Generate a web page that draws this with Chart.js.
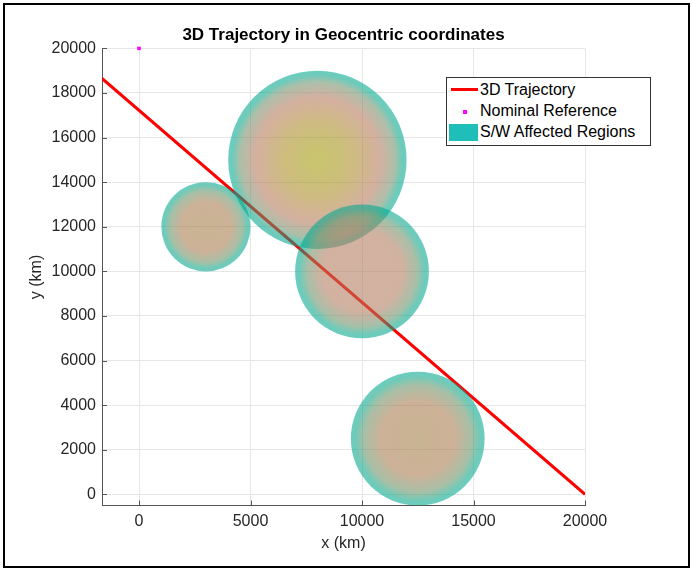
<!DOCTYPE html>
<html>
<head>
<meta charset="utf-8">
<script src="https://cdn.jsdelivr.net/npm/chart.js@4.4.0/dist/chart.umd.min.js"></script>
<style>
  html, body { margin: 0; padding: 0; background: #fff; }
  #wrap { position: relative; width: 692px; height: 571px; font-family: "Liberation Sans", Arial, sans-serif; }
  #frame { position: absolute; left: 3px; top: 3px; width: 683px; height: 561px; border: 2px solid #000; pointer-events: none; }
  #legend { position: absolute; left: 446px; top: 77px; width: 205px; height: 69px; box-sizing: border-box;
            border: 1px solid #333; background: #fff; font-size: 16px; color: #000; }
  #legend .row { position: absolute; left: 33px; height: 20px; line-height: 20px; white-space: nowrap; }
  #legend .sym { position: absolute; }
</style>
</head>
<body>
<div id="wrap">
  <canvas id="chart" width="692" height="571"></canvas>
  <div id="legend">
    <div class="sym" style="left:4px; top:10px; width:27px; height:3px; background:#ff0000;"></div>
    <div class="row" style="top:2px;">3D Trajectory</div>
    <div class="sym" style="left:16px; top:32px; width:4px; height:4px; background:#ff00ff;"></div>
    <div class="row" style="top:23px;">Nominal Reference</div>
    <div class="sym" style="left:2px; top:46px; width:29px; height:17px; background:#1fbeb8;"></div>
    <div class="row" style="top:44px;">S/W Affected Regions</div>
  </div>
  <div id="frame"></div>
</div>
<script>
// axis limits and ticks (km)
const xMin = -1660;
const xMax = 20000;
const yMin = -500;
const yMax = 20000;
const xTicks = [0, 5000, 10000, 15000, 20000];
const yTicks = [0, 2000, 4000, 6000, 8000, 10000, 12000, 14000, 16000, 18000, 20000];

// 3D trajectory (projected on x-y)
const trajX = [-1660, 20000];
const trajY = [18650, 0];

// nominal reference point
const nomX = [0];
const nomY = [20000];

// S/W affected regions: centres and radii (km)
const regionX = [3000, 8000, 10000, 12500];
const regionY = [12000, 15000, 10000, 2500];
const regionR = [2000, 4000, 3000, 3000];

// shading per region (style only)
const regionShade = ['tan', 'gold', 'pink', 'tan'];

const ALPHA = 0.58;
// colour as it looks over white -> base colour to draw with ALPHA
function tint(c) {
  const b = c.map(v => Math.max(0, Math.min(255, Math.round((v - 255 * (1 - ALPHA)) / ALPHA))));
  return `rgba(${b[0]},${b[1]},${b[2]},${ALPHA})`;
}
const shades = {
  tan: [[0, [200, 180, 146]], [0.55, [205, 178, 152]], [0.8, [168, 191, 166]], [0.93, [112, 202, 184]], [1, [90, 205, 192]]],
  pink: [[0, [210, 178, 160]], [0.6, [210, 177, 160]], [0.82, [168, 191, 168]], [0.94, [110, 203, 186]], [1, [90, 205, 192]]],
  gold: [[0, [200, 197, 105]], [0.4, [205, 188, 128]], [0.7, [212, 176, 160]], [0.87, [172, 191, 170]], [0.95, [110, 203, 186]], [1, [90, 205, 192]]]
};

function pxRadius(chart, r) {
  const s = chart.scales.x;
  if (!s) return 0;
  const d = Math.abs(s.getPixelForValue(r) - s.getPixelForValue(0));
  return isFinite(d) ? d : 0;
}

const innerTicks = {
  id: 'innerTicks',
  afterDatasetsDraw(chart) {
    const { ctx, chartArea: a, scales: { x, y } } = chart;
    ctx.save();
    ctx.strokeStyle = '#555';
    ctx.lineWidth = 1;
    ctx.beginPath();
    x.ticks.forEach(t => {
      const px = Math.round(x.getPixelForValue(t.value)) + 0.5;
      ctx.moveTo(px, a.bottom);
      ctx.lineTo(px, a.bottom - 5);
    });
    y.ticks.forEach(t => {
      const py = Math.round(y.getPixelForValue(t.value)) + 0.5;
      ctx.moveTo(a.left, py);
      ctx.lineTo(a.left + 5, py);
    });
    ctx.stroke();
    ctx.restore();
  }
};

Chart.defaults.font.family = '"Liberation Sans", Arial, sans-serif';
Chart.defaults.color = '#262626';

new Chart(document.getElementById('chart'), {
  type: 'scatter',
  data: {
    datasets: [
      {
        type: 'line',
        label: '3D Trajectory',
        data: trajX.map((x, i) => ({ x, y: trajY[i] })),
        borderColor: '#ff0000',
        borderWidth: 3,
        pointRadius: 0,
        fill: false,
        order: 1
      },
      {
        type: 'scatter',
        label: 'Nominal Reference',
        data: nomX.map((x, i) => ({ x, y: nomY[i] })),
        pointStyle: 'rect',
        pointRadius: 2.5,
        backgroundColor: '#ff00ff',
        borderWidth: 0,
        clip: false,
        order: 1
      },
      {
        type: 'scatter',
        label: 'S/W Affected Regions',
        data: regionX.map((x, i) => ({ x, y: regionY[i] })),
        order: 0,
        pointBorderWidth: 0,
        pointRadius: ctx => (ctx.dataIndex === undefined ? 0 : pxRadius(ctx.chart, regionR[ctx.dataIndex])),
        pointBackgroundColor: ctx => {
          const fallback = 'rgba(31,190,184,0.6)';
          if (ctx.dataIndex === undefined) return fallback;
          const chart = ctx.chart;
          const i = ctx.dataIndex;
          if (!chart.scales.x || !chart.scales.y) return fallback;
          const cx = chart.scales.x.getPixelForValue(regionX[i]);
          const cy = chart.scales.y.getPixelForValue(regionY[i]);
          const rp = pxRadius(chart, regionR[i]);
          if (!isFinite(cx) || !isFinite(cy) || !(rp > 0)) return fallback;
          const g = chart.ctx.createRadialGradient(cx, cy, 0, cx, cy, rp);
          shades[regionShade[i]].forEach(([stop, c]) => g.addColorStop(stop, tint(c)));
          return g;
        }
      }
    ]
  },
  options: {
    responsive: false,
    animation: false,
    devicePixelRatio: 1,
    events: [],
    layout: { padding: { left: 20, right: 107, top: 15, bottom: 10 } },
    plugins: {
      legend: { display: false },
      tooltip: { enabled: false },
      title: {
        display: true,
        fullSize: false,
        text: '3D Trajectory in Geocentric coordinates',
        font: { size: 17, weight: 'bold' },
        color: '#000',
        padding: { top: 10, bottom: 3 }
      }
    },
    scales: {
      x: {
        type: 'linear',
        min: xMin,
        max: xMax,
        bounds: 'data',
        afterBuildTicks: s => { s.ticks = xTicks.map(v => ({ value: v })); },
        afterFit: s => { s.height = 55.5; },
        grid: { color: '#e6e6e6', drawTicks: false },
        border: { color: '#555', width: 1 },
        ticks: { padding: 6, font: { size: 16 }, color: '#262626', maxRotation: 0, autoSkip: false, callback: v => String(v) },
        title: { display: true, text: 'x (km)', font: { size: 16 }, color: '#262626', padding: { top: 0, bottom: 8 } }
      },
      y: {
        type: 'linear',
        min: yMin,
        max: yMax,
        bounds: 'data',
        afterBuildTicks: s => { s.ticks = yTicks.map(v => ({ value: v })); },
        afterFit: s => { s.width = 82; },
        grid: { color: '#e6e6e6', drawTicks: false },
        border: { color: '#555', width: 1 },
        ticks: { padding: 6, font: { size: 16 }, color: '#262626', autoSkip: false, callback: v => String(v) },
        title: { display: true, text: 'y (km)', font: { size: 16 }, color: '#262626', padding: { top: 7, bottom: 0 } }
      }
    }
  },
  plugins: [innerTicks]
});
</script>
</body>
</html>
